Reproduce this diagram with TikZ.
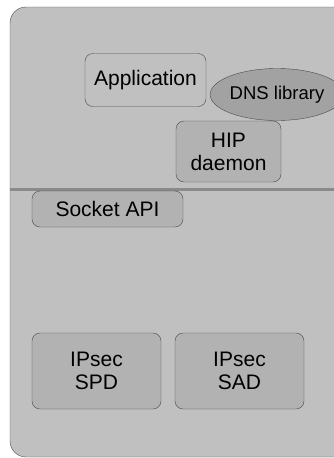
\documentclass[tikz,border=0pt]{standalone}
\usepackage{fontspec}
\setmainfont{Liberation Sans}
\usepackage{tikz}
\usetikzlibrary{shapes.geometric}
\definecolor{hostgray}{HTML}{C0C0C0}
\definecolor{boxgray}{HTML}{B2B2B2}
\definecolor{dnsgray}{HTML}{A2A2A2}
\definecolor{rimgray}{HTML}{4A4A4A}
\definecolor{splitgray}{HTML}{8A8A8A}

\begin{document}
\begin{tikzpicture}[x=1pt,y=-1pt,
    module/.style={draw=rimgray, fill=boxgray, rounded corners=8pt, align=center,
      inner sep=0pt, font=\fontsize{21}{23}\selectfont}]
        \useasboundingbox (0,0) rectangle (334,458);
        % Host frame
        \begin{scope}
          \clip (0,0) rectangle (334,458);
          \draw[rimgray, fill=hostgray, rounded corners=16pt] (10,7) rectangle (370,457);
        \end{scope}
        % Kernel boundary
        \draw[splitgray, line width=3pt] (10,189) -- (334,189);
        % Userspace
        \node[module, fill=hostgray, minimum width=121pt, minimum height=53pt]
          (app) at (145.5,80) {Application};
        \node[module, minimum width=105pt, minimum height=61pt]
          (hipd) at (228.5,151.5) {HIP\\daemon};
        \node[draw=rimgray, fill=dnsgray, ellipse, inner sep=0pt,
          minimum width=98pt, minimum height=52pt, font=\fontsize{18.5}{20}\selectfont]
          (dns) at (277,94.5) {DNS library};
        % Kernel
        \node[module, minimum width=151pt, minimum height=36pt]
          (sock) at (107.5,209) {Socket API};
        \node[module, minimum width=129pt, minimum height=76pt]
          (spd) at (96.5,371) {IPsec\\SPD};
        \node[module, minimum width=129pt, minimum height=76pt]
          (sad) at (239.5,371) {IPsec\\SAD};
      \end{tikzpicture}
\end{document}
